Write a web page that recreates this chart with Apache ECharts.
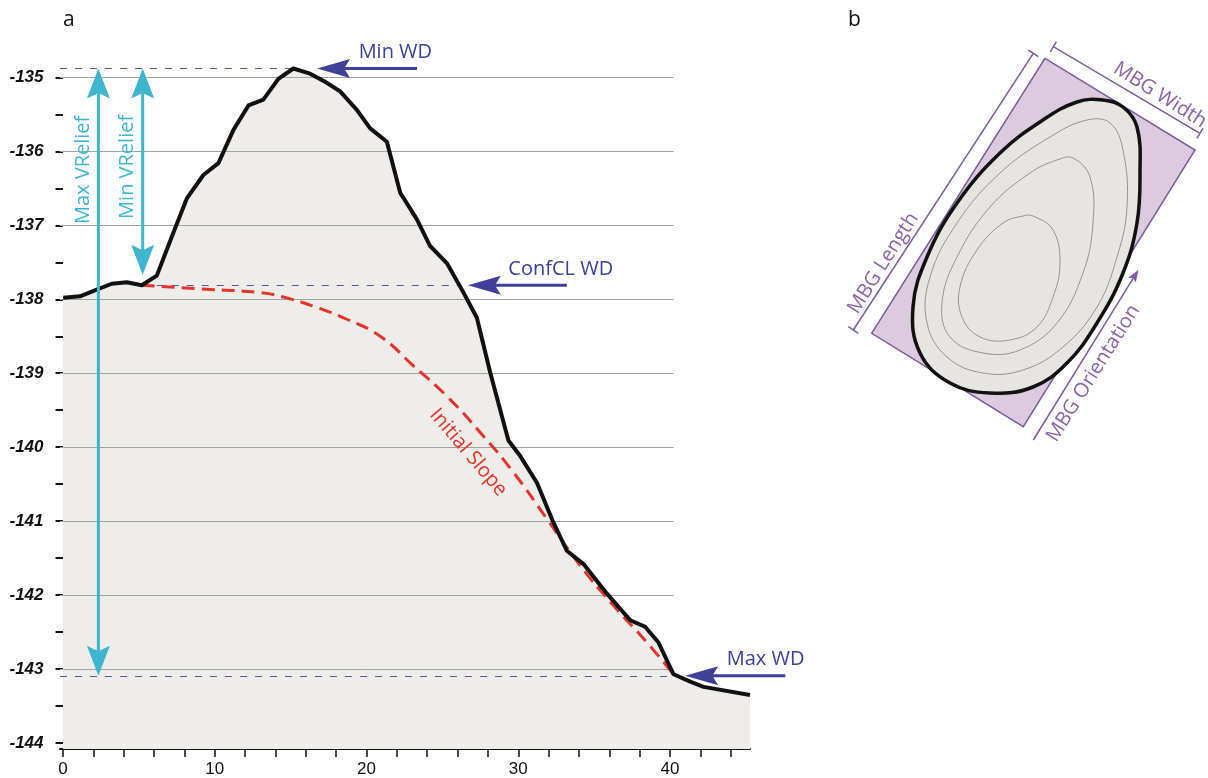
<!DOCTYPE html>
<html>
<head>
<meta charset="utf-8">
<title>Profile and MBG</title>
<script src="https://cdn.jsdelivr.net/npm/echarts@6.0.0/dist/echarts.min.js"></script>
<style>
html, body { margin: 0; padding: 0; background: #fff; }
#main { width: 1208px; height: 778px; }
</style>
</head>
<body>
<div id="main"></div>
<script>
// panel a: depth profile (distance, depth)
var profileX = [0, 1.12, 2.22, 3.21, 4.2, 5.19, 6.18, 7.27, 8.15, 9.25, 10.24, 11.23, 12.22, 13.2, 14.19, 15.18,
    16.28, 17.27, 18.26, 19.36, 20.24, 21.34, 22.22, 23.32, 24.19, 25.29, 26.39, 27.27, 28.15, 29.35, 30.13,
    31.23, 32.32, 33.2, 34.3, 35.84, 37.38, 38.37, 39.24, 40.23, 41.33, 42.21, 45.27];
var profileY = [-137.98, -137.96, -137.87, -137.79, -137.77, -137.81, -137.68, -137.1, -136.64, -136.32, -136.16,
    -135.71, -135.38, -135.3, -135.02, -134.88, -134.95, -135.06, -135.19, -135.44, -135.69, -135.87, -136.56,
    -136.92, -137.28, -137.51, -137.91, -138.25, -138.99, -139.91, -140.12, -140.48, -141.02, -141.4, -141.58,
    -141.98, -142.34, -142.43, -142.64, -143.07, -143.17, -143.24, -143.35];
// initial slope (red dashed)
var slopeX = [5.19, 9.03, 12.99, 14.52, 16.72, 18.7, 20.9, 23.09, 25.29, 27.49, 29.68, 31.89, 34.08, 36.28, 38.48, 40.23];
var slopeY = [-137.81, -137.86, -137.91, -137.97, -138.11, -138.27, -138.5, -138.9, -139.31, -139.8, -140.34,
    -140.97, -141.6, -142.14, -142.64, -143.07];

var xTickValues = [0, 2, 4, 6, 8, 10, 12, 14, 16, 18, 20, 22, 24, 26, 28, 30, 32, 34, 36, 38, 40, 42, 44];
var xLabelValues = [0, 10, 20, 30, 40];
var yTickValues = [-144, -143.5, -143, -142.5, -142, -141.5, -141, -140.5, -140, -139.5, -139, -138.5, -138,
    -137.5, -137, -136.5, -136, -135.5, -135];
var yLabelValues = [-144, -143, -142, -141, -140, -139, -138, -137, -136, -135];
var gridLevels = [-135, -136, -137, -138, -139, -140, -141, -142, -143];

// reference depths
var minWD = -134.88, confWD = -137.81, maxWD = -143.09;
var minWDX = 15.18, confStartX = 5.19, confEndX = 26.0, maxWDX = 40.23;
var maxReliefX = 2.33, minReliefX = 5.25, minReliefEnd = -137.67;

// panel b sketch outlines (sketch units)
var mbgRect = [[225, 58.3], [375, 150], [203.3, 426.7], [51.7, 333.3]];
var eggOuter = [[283, 100], [303, 107], [317, 127], [320, 173], [317, 223], [303, 273], [277, 323], [247, 363],
    [213, 387], [170, 393], [130, 383], [100, 353], [93, 307], [107, 257], [137, 203], [180, 153], [223, 120], [257, 102]];
var contour1 = [[290, 123], [303, 150], [307, 207], [297, 257], [277, 307], [243, 347], [203, 370], [163, 373],
    [127, 357], [107, 323], [110, 277], [137, 223], [180, 173], [230, 137], [267, 120]];
var contour2 = [[253, 158], [270, 177], [273, 223], [263, 273], [237, 323], [200, 350], [163, 353], [130, 337],
    [122, 303], [137, 257], [170, 207], [210, 173], [237, 160]];
var contour3 = [[213, 216], [233, 230], [240, 263], [233, 297], [217, 327], [190, 340], [160, 337], [142, 317],
    [140, 287], [157, 250], [183, 223], [203, 216]];
var lengthDim = [[33.3, 330], [213.3, 53.3]];
var widthDim = [[233.3, 46.7], [380, 133.3]];
var orientArrow = [[213.3, 440], [318.3, 270]];

var navy = '#3f4199', cyan = '#3fb6cd', red = '#e3352b', purple = '#8a63a8', purpleLine = '#7d5c9e';
var font = '"Open Sans", "Noto Sans", sans-serif';

function zip(xs, ys) {
    var out = [];
    for (var i = 0; i < xs.length; i++) out.push([xs[i], ys[i]]);
    return out;
}

var gridLineData = gridLevels.map(function (v) {
    return { coords: [[-0.2, v], [maxWDX, v]] };
});
var refLineData = [
    { coords: [[-0.2, minWD], [minWDX, minWD]] },
    { coords: [[confStartX, confWD], [confEndX, confWD]] },
    { coords: [[-0.2, maxWD], [maxWDX, maxWD]] }
];

function arrowEls(api, from, to, color, lw, hl, hw, both) {
    var a = api.coord(from), b = api.coord(to);
    var dx = b[0] - a[0], dy = b[1] - a[1], len = Math.sqrt(dx * dx + dy * dy);
    var ux = dx / len, uy = dy / len, nx = -uy, ny = ux;
    function head(tip, sx, sy) {
        return {
            type: 'polygon',
            shape: { points: [
                [tip[0], tip[1]],
                [tip[0] - sx * hl + nx * hw / 2, tip[1] - sy * hl + ny * hw / 2],
                [tip[0] - sx * hl * 0.82, tip[1] - sy * hl * 0.82],
                [tip[0] - sx * hl - nx * hw / 2, tip[1] - sy * hl - ny * hw / 2]
            ] },
            style: { fill: color }
        };
    }
    var s = both ? [a[0] + ux * hl * 0.8, a[1] + uy * hl * 0.8] : a;
    var e = [b[0] - ux * hl * 0.8, b[1] - uy * hl * 0.8];
    var els = [{ type: 'line', shape: { x1: s[0], y1: s[1], x2: e[0], y2: e[1] }, style: { stroke: color, lineWidth: lw } }];
    els.push(head(b, ux, uy));
    if (both) els.push(head(a, -ux, -uy));
    return els;
}

function textEl(api, pos, text, color, rot) {
    var p = api.coord(pos);
    return {
        type: 'text', x: p[0], y: p[1], rotation: rot || 0,
        style: { text: text, fill: color, fontSize: 20, fontFamily: font, align: 'center', verticalAlign: 'middle' }
    };
}

// annotations of panel a
function renderNotes(params, api) {
    var els = [];
    els = els.concat(arrowEls(api, [maxReliefX, maxWD], [maxReliefX, minWD], cyan, 3, 30, 23, true));
    els = els.concat(arrowEls(api, [minReliefX, minReliefEnd], [minReliefX, minWD], cyan, 3, 30, 23, true));
    els = els.concat(arrowEls(api, [23.33, minWD], [16.74, minWD], navy, 3, 33, 19, false));
    els = els.concat(arrowEls(api, [33.2, confWD], [26.68, confWD], navy, 3, 33, 19, false));
    els = els.concat(arrowEls(api, [47.6, maxWD], [41.0, maxWD], navy, 3, 33, 19, false));
    els.push(textEl(api, [21.9, -134.66], 'Min WD', navy));
    els.push(textEl(api, [32.8, -137.6], 'ConfCL WD', navy));
    els.push(textEl(api, [46.3, -142.87], 'Max WD', navy));
    els.push(textEl(api, [1.32, -136.25], 'Max VRelief', cyan, Math.PI / 2));
    els.push(textEl(api, [4.25, -136.21], 'Min VRelief', cyan, Math.PI / 2));
    els.push(textEl(api, [26.7, -140.07], 'Initial Slope', red, -49.6 * Math.PI / 180));
    return { type: 'group', children: els };
}

function dimEls(api, seg, tick) {
    var a = api.coord(seg[0]), b = api.coord(seg[1]);
    var dx = b[0] - a[0], dy = b[1] - a[1], len = Math.sqrt(dx * dx + dy * dy);
    var nx = -dy / len * tick, ny = dx / len * tick;
    var st = { stroke: purpleLine, lineWidth: 1.5 };
    return [
        { type: 'line', shape: { x1: a[0], y1: a[1], x2: b[0], y2: b[1] }, style: st },
        { type: 'line', shape: { x1: a[0] - nx, y1: a[1] - ny, x2: a[0] + nx, y2: a[1] + ny }, style: st },
        { type: 'line', shape: { x1: b[0] - nx, y1: b[1] - ny, x2: b[0] + nx, y2: b[1] + ny }, style: st }
    ];
}

// panel b sketch
function renderSketch(params, api) {
    function pts(list) { return list.map(function (p) { return api.coord(p); }); }
    var els = [];
    els.push({ type: 'polygon', shape: { points: pts(mbgRect) }, style: { fill: '#dccbdf', stroke: purpleLine, lineWidth: 1.5 } });
    els.push({ type: 'polygon', shape: { points: pts(eggOuter), smooth: 0.4 }, style: { fill: '#e7e5e2' } });
    [contour1, contour2, contour3].forEach(function (c) {
        els.push({ type: 'polygon', shape: { points: pts(c), smooth: 0.4 }, style: { fill: 'none', stroke: '#808080', lineWidth: 0.8 } });
    });
    els.push({ type: 'polygon', shape: { points: pts(eggOuter), smooth: 0.4 }, style: { fill: 'none', stroke: '#111', lineWidth: 3.5 } });
    els = els.concat(dimEls(api, lengthDim, 6));
    els = els.concat(dimEls(api, widthDim, 6));
    els = els.concat(arrowEls(api, orientArrow[0], orientArrow[1], purpleLine, 1.5, 12, 9, false));
    var rLong = Math.atan2(275, 173);
    els.push(textEl(api, [63.3, 263.3], 'MBG Length', purple, rLong));
    els.push(textEl(api, [340, 95], 'MBG Width', purple, rLong - Math.PI / 2));
    els.push(textEl(api, [273.3, 373.3], 'MBG Orientation', purple, rLong));
    return { type: 'group', children: els };
}

var myChart = echarts.init(document.getElementById('main'));
var option = {
    backgroundColor: '#fff',
    animation: false,
    title: [
        { text: 'a', left: 58, top: 5, textStyle: { fontSize: 21, fontWeight: 'normal', color: '#111', fontFamily: font } },
        { text: 'b', left: 843, top: 5, textStyle: { fontSize: 21, fontWeight: 'normal', color: '#111', fontFamily: font } }
    ],
    grid: [
        { left: 60, right: 458, top: 50, bottom: 28 },
        { left: 820, top: 0, width: 388, height: 460 }
    ],
    xAxis: [
        {
            type: 'value', gridIndex: 0, min: -0.2, max: 45.27,
            axisLine: { show: true, lineStyle: { color: '#111', width: 2 } },
            axisTick: { show: true, customValues: xTickValues, length: 8, lineStyle: { color: '#111', width: 1.5 } },
            axisLabel: { customValues: xLabelValues, margin: 12, fontSize: 17, color: '#111', fontFamily: 'Liberation Sans, Arial' },
            splitLine: { show: false }
        },
        { type: 'value', gridIndex: 1, min: 0, max: 388, show: false }
    ],
    yAxis: [
        {
            type: 'value', gridIndex: 0, min: -144.08, max: -134.63, offset: 2.5,
            axisLine: { show: false },
            axisTick: { show: true, customValues: yTickValues, length: 7.5, lineStyle: { color: '#111', width: 2 } },
            axisLabel: {
                customValues: yLabelValues, margin: 14, fontSize: 17, fontWeight: 'bold', fontStyle: 'italic',
                color: '#111', fontFamily: 'Liberation Sans, Arial'
            },
            splitLine: { show: false }
        },
        { type: 'value', gridIndex: 1, min: 0, max: 460, inverse: true, show: false }
    ],
    series: [
        {
            name: 'fill', type: 'line', z: 1, silent: true,
            data: zip(profileX, profileY), symbol: 'none',
            lineStyle: { width: 0 },
            areaStyle: { color: '#efede9', opacity: 1, origin: 'start' }
        },
        {
            name: 'grid', type: 'lines', coordinateSystem: 'cartesian2d', z: 2, silent: true,
            data: gridLineData,
            lineStyle: { color: '#a3a3a3', width: 1, opacity: 1 }
        },
        {
            name: 'ref', type: 'lines', coordinateSystem: 'cartesian2d', z: 3, silent: true,
            data: refLineData,
            lineStyle: { color: '#5458aa', width: 1.2, type: [7, 8], opacity: 1 }
        },
        {
            name: 'Initial Slope', type: 'line', z: 4, silent: true,
            data: zip(slopeX, slopeY), symbol: 'none', smooth: 0.5,
            lineStyle: { color: red, width: 3, type: [13, 7] }
        },
        {
            name: 'profile', type: 'line', z: 5, silent: true,
            data: zip(profileX, profileY), symbol: 'none',
            lineStyle: { color: '#111', width: 4, join: 'round' }
        },
        {
            name: 'notes', type: 'custom', coordinateSystem: 'cartesian2d', xAxisIndex: 0, yAxisIndex: 0,
            z: 6, silent: true, clip: false, data: [[0, -140]], renderItem: renderNotes
        },
        {
            name: 'sketch', type: 'custom', coordinateSystem: 'cartesian2d', xAxisIndex: 1, yAxisIndex: 1,
            z: 6, silent: true, clip: false, data: [[0, 0]], renderItem: renderSketch
        }
    ]
};
myChart.setOption(option);
</script>
</body>
</html>
